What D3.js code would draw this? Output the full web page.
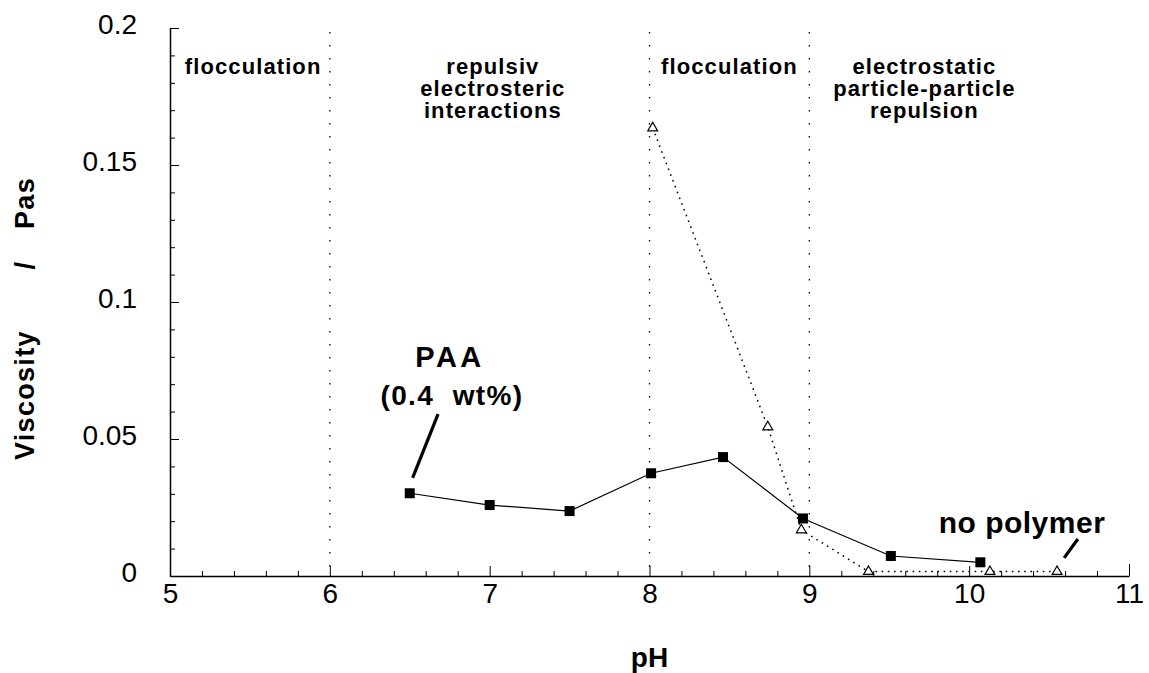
<!DOCTYPE html>
<html><head><meta charset="utf-8">
<script src="https://cdn.jsdelivr.net/npm/d3@7"></script>
<style>
body{margin:0;background:#fff;}
svg{display:block;font-family:"Liberation Sans",Arial,Helvetica,sans-serif;}
</style></head>
<body>
<svg id="chart" width="1149" height="673"></svg>
<script>
// ---- data ----
const paaPH   = [6.5, 7.0, 7.5, 8.01, 8.46, 8.96, 9.51, 10.07];
const paaVisc = [0.0302, 0.0259, 0.0237, 0.0375, 0.0434, 0.0210, 0.0073, 0.0050];
const noPolyPH   = [8.02, 8.74, 8.95, 9.37, 10.13, 10.55];
const noPolyVisc = [0.1635, 0.0544, 0.0168, 0.0016, 0.0016, 0.0016];
const xTicks = [5, 6, 7, 8, 9, 10, 11];
const yTicks = [0, 0.05, 0.1, 0.15, 0.2];
const yTickLabels = ["0", "0.05", "0.1", "0.15", "0.2"];
const boundaries = [6, 8, 9];
const regionLabels = [
  {ph: 5.52, lines: ["flocculation"]},
  {ph: 7.02, lines: ["repulsiv", "electrosteric", "interactions"]},
  {ph: 8.5,  lines: ["flocculation"]},
  {ph: 9.72, lines: ["electrostatic", "particle-particle", "repulsion"]}
];

// ---- layout ----
const svg = d3.select("#chart");
const x = d3.scaleLinear().domain([5, 11]).range([170, 1129]);
const y = d3.scaleLinear().domain([0, 0.2]).range([576, 28]);
const FONT = '"Liberation Sans",Arial,Helvetica,sans-serif';

// minor ticks
const xMinor = d3.range(5, 11.001, 0.2).filter(v => Math.abs(v - Math.round(v)) > 1e-6);
const yMinor = d3.range(0, 0.2001, 0.01).filter(v => Math.abs(v*20 - Math.round(v*20)) > 1e-6);

svg.append("g").attr("transform", `translate(0,${y(0)})`)
  .call(d3.axisBottom(x).tickValues(xMinor).tickSize(-5).tickFormat(""))
  .call(g => g.select(".domain").remove());
svg.append("g").attr("transform", `translate(${x(5)},0)`)
  .call(d3.axisLeft(y).tickValues(yMinor).tickSize(-5).tickFormat(""))
  .call(g => g.select(".domain").remove());

// major axes
const xAxis = svg.append("g").attr("transform", `translate(0,${y(0)})`)
  .call(d3.axisBottom(x).tickValues(xTicks).tickSize(-10).tickSizeOuter(0).tickPadding(7).tickFormat(d3.format("d")));
xAxis.selectAll("text").attr("font-size", 28).attr("font-family", FONT).attr("fill", "#000");
xAxis.select(".tick:last-of-type line").attr("y2", -12);

const yAxis = svg.append("g").attr("transform", `translate(${x(5)},0)`)
  .call(d3.axisLeft(y).tickValues(yTicks).tickSize(-9).tickSizeOuter(0).tickPadding(33)
    .tickFormat((d, i) => yTickLabels[i]));
yAxis.selectAll("text").attr("font-size", 28).attr("font-family", FONT).attr("fill", "#000").attr("dy", "0.18em");

svg.selectAll(".domain").attr("stroke", "#000").attr("stroke-width", 1.5);
svg.selectAll(".tick line").attr("stroke", "#000").attr("stroke-width", 1);

// boundaries
svg.append("g").selectAll("line").data(boundaries).join("line")
  .attr("x1", d => x(d)).attr("x2", d => x(d))
  .attr("y1", y(0.1985)).attr("y2", y(0))
  .attr("stroke", "#000").attr("stroke-width", 1.3)
  .attr("stroke-dasharray", "1.5,11.5");

// region labels
regionLabels.forEach(r => {
  const t = svg.append("text").attr("text-anchor", "middle")
    .attr("font-size", 22).attr("font-weight", "bold").attr("letter-spacing", 1.1)
    .attr("font-family", FONT);
  r.lines.forEach((ln, i) => {
    t.append("tspan").attr("x", x(r.ph)).attr("y", 74 + i * 22).text(ln);
  });
});

// lines
const lineGen = d3.line().x(d => x(d[0])).y(d => y(d[1]));
const noPoly = noPolyPH.map((p, i) => [p, noPolyVisc[i]]);
const paa = paaPH.map((p, i) => [p, paaVisc[i]]);

svg.append("path").datum(noPoly).attr("d", lineGen)
  .attr("fill", "none").attr("stroke", "#000").attr("stroke-width", 1.5)
  .attr("stroke-dasharray", "1.6,4.6");
svg.append("path").datum(paa).attr("d", lineGen)
  .attr("fill", "none").attr("stroke", "#000").attr("stroke-width", 1.2);

// markers
svg.append("g").selectAll("path").data(noPoly).join("path")
  .attr("d", d3.symbol(d3.symbolTriangle, 42))
  .attr("transform", d => `translate(${x(d[0])},${y(d[1])})`)
  .attr("fill", "#fff").attr("stroke", "#000").attr("stroke-width", 1.2);
svg.append("g").selectAll("rect").data(paa).join("rect")
  .attr("x", d => x(d[0]) - 5).attr("y", d => y(d[1]) - 5)
  .attr("width", 10).attr("height", 10).attr("fill", "#000");

// annotations
svg.append("line").attr("x1", x(6.518)).attr("y1", y(0.0358)).attr("x2", x(6.677)).attr("y2", y(0.0591))
  .attr("stroke", "#000").attr("stroke-width", 3.2);
svg.append("line").attr("x1", x(10.594)).attr("y1", y(0.0066)).attr("x2", x(10.68)).attr("y2", y(0.0135))
  .attr("stroke", "#000").attr("stroke-width", 3.2);

svg.append("text").attr("x", 450).attr("y", 367).attr("text-anchor", "middle")
  .attr("font-size", 29).attr("font-weight", "bold").attr("font-family", FONT)
  .attr("letter-spacing", 3.5).text("PAA");
svg.append("text").attr("x", 452).attr("y", 405).attr("text-anchor", "middle")
  .attr("font-size", 28).attr("font-weight", "bold").attr("font-family", FONT)
  .attr("letter-spacing", 1.4).attr("xml:space", "preserve").text("(0.4  wt%)");

svg.append("text").attr("x", 1022).attr("y", 533).attr("text-anchor", "middle")
  .attr("font-size", 30).attr("font-weight", "bold").attr("font-family", FONT)
  .attr("letter-spacing", 0.5).text("no polymer");

// axis titles
svg.append("text").attr("x", x(8)).attr("y", 667).attr("text-anchor", "middle")
  .attr("font-size", 28).attr("font-weight", "bold").attr("font-family", FONT).text("pH");

const yl = svg.append("g").attr("font-size", 27).attr("font-weight", "bold").attr("font-family", FONT)
  .attr("letter-spacing", 1.3);
yl.append("text").attr("transform", "translate(34,460) rotate(-90)").attr("text-anchor", "start").text("Viscosity");
yl.append("text").attr("transform", "translate(34,265) rotate(-90)").attr("text-anchor", "middle").text("/");
yl.append("text").attr("transform", "translate(34,177) rotate(-90)").attr("text-anchor", "end").text("Pas");
</script>
</body></html>
